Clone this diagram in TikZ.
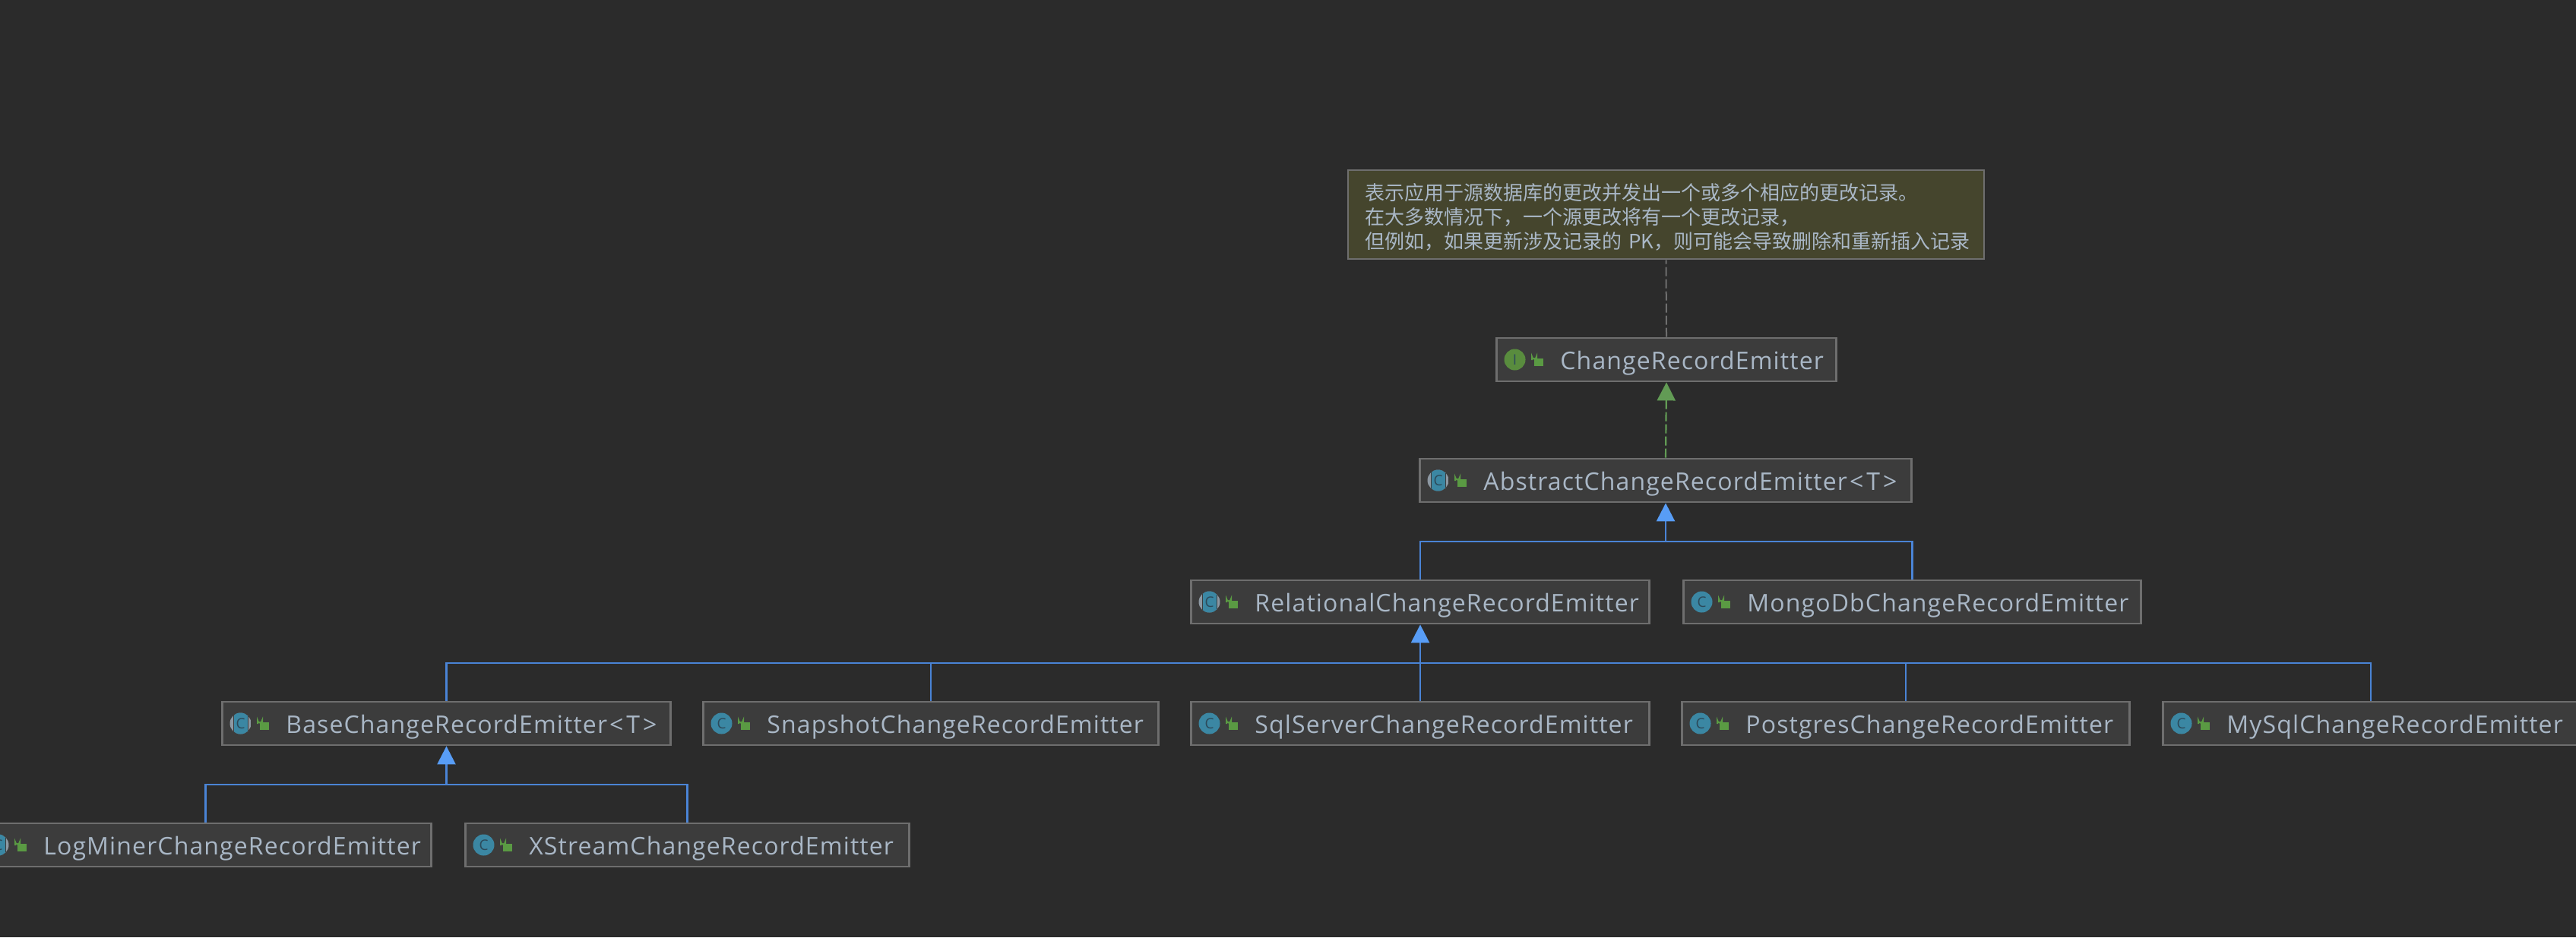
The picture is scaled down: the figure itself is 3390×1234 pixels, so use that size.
\documentclass[tikz,border=0pt]{standalone}
\usepackage{fontspec}
\usetikzlibrary{arrows.meta}
\setmainfont{Open Sans}
\newfontfamily\clsfont[LetterSpace=3.5]{Open Sans}
\newfontfamily\iconfont{Open Sans}
\newfontfamily\cjkfont{Noto Sans CJK SC}
\definecolor{bgc}{HTML}{2B2B2B}
\definecolor{boxc}{HTML}{3C3C3C}
\definecolor{edgec}{HTML}{6E6E6E}
\definecolor{textc}{HTML}{A9B7C6}
\definecolor{notec}{HTML}{45452D}
\definecolor{linec}{HTML}{4A84D6}
\definecolor{tipc}{HTML}{589DF6}
\definecolor{greenc}{HTML}{629B55}
\definecolor{tealc}{HTML}{3B87A3}
\definecolor{crec}{HTML}{8D98A2}
\definecolor{lockc}{HTML}{5A9A43}
\definecolor{inkc}{HTML}{2C4A5A}
\definecolor{ifacec}{HTML}{598C3E}
\tikzset{
  clsbox/.style={draw=edgec,fill=boxc,line width=2.8pt,inner xsep=0pt,inner ysep=0pt,
    align=left,text=textc,font=\clsfont\fontsize{32}{36}\selectfont,
    text height=30pt,text depth=5pt,minimum height=57pt},
  notebox/.style={draw=edgec,fill=notec,line width=2.8pt,inner xsep=22pt,inner ysep=0pt,
    align=left,text=textc,font=\cjkfont\fontsize{26}{32}\selectfont,
    minimum width=837pt,minimum height=117pt,text width=792pt},
  tree/.style={draw=linec,line width=2.5pt},
  inherit/.style={draw=linec,line width=2.5pt,-{Triangle[length=24pt,width=24pt,color=tipc]}},
  realize/.style={draw=greenc,line width=2.2pt,dash pattern=on 12pt off 4pt,-{Triangle[length=24pt,width=24pt,color=greenc]}},
  noteline/.style={draw=edgec,line width=2pt,dash pattern=on 12pt off 4pt},
  iconletter/.style={inner sep=0pt,text=inkc,font=\iconfont\fontsize{19}{19}\selectfont},
  lockbody/.style={fill=lockc,draw=none},
  lockarc/.style={draw=lockc,line width=2pt},
}
% \clsnode{name}{left}{right}{top}{kind: c a i}{text}
\newcommand{\clsnode}[6]{%
  \pgfmathsetmacro{\cw}{#3-#2-2.8}%
  \pgfmathsetmacro{\cx}{(#2+#3)/2}%
  \pgfmathsetmacro{\cy}{#4+29.5}%
  \node[clsbox,minimum width=\cw pt,text width=\cw pt] (#1) at (\cx,\cy) {\hspace*{84pt}#6};
  \begin{scope}[shift={(#2,#4)}]
    \ifx c#5
      \fill[tealc] (25.5,29.5) circle (14);
      \node[iconletter] (#1-letter) at (25.5,29.5) {C};
    \fi
    \ifx a#5
      \begin{scope}
        \clip (25.5,29.5) circle (14);
        \fill[crec] (11,15) rectangle (40,44);
        \fill[boxc] (15.8,15) rectangle (35.5,44);
        \fill[tealc] (17,15) rectangle (34.5,44);
      \end{scope}
      \node[iconletter] (#1-letter) at (25.5,29.5) {C};
    \fi
    \ifx i#5
      \fill[ifacec] (25.5,29.5) circle (14);
      \node[iconletter] (#1-letter) at (25.5,29.5) {I};
    \fi
    \fill[lockbody] (51,28) rectangle (63,38);
    \draw[lockarc] (48,30) -- (48,25.5) arc[start angle=180,end angle=0,radius=3] -- (54,28);
  \end{scope}
}
\newcommand{\typearg}{\kern3pt<\kern4pt T\kern4pt>}
\begin{document}
\begin{tikzpicture}[x=1pt,y=-1pt]
\useasboundingbox (0,0) rectangle (3390,1234);
\clip (0,0) rectangle (3390,1234);
\fill[bgc] (0,0) rectangle (3390,1234);

\node[notebox] (note) at (2192.5,282.5) {\rule{0pt}{29pt}表示应用于源数据库的更改并发出一个或多个相应的更改记录。\\在大多数情况下，一个源更改将有一个更改记录，\\但例如，如果更新涉及记录的 PK，则可能会导致删除和重新插入记录};

\clsnode{cre}{1968}{2418}{444}{i}{ChangeRecordEmitter}
\clsnode{abs}{1867}{2517}{603}{a}{AbstractChangeRecordEmitter\typearg}
\clsnode{rel}{1566}{2172}{763}{a}{RelationalChangeRecordEmitter}
\clsnode{mongo}{2214}{2819}{763}{c}{MongoDbChangeRecordEmitter}
\clsnode{base}{291}{884}{923}{a}{BaseChangeRecordEmitter\typearg}
\clsnode{snap}{924}{1526}{923}{c}{SnapshotChangeRecordEmitter}
\clsnode{sql}{1566}{2172}{923}{c}{SqlServerChangeRecordEmitter}
\clsnode{pg}{2212}{2804}{923}{c}{PostgresChangeRecordEmitter}
\clsnode{mysql}{2845}{3395}{923}{c}{MySqlChangeRecordEmitter}
\clsnode{log}{-28}{569}{1083}{a}{LogMinerChangeRecordEmitter}
\clsnode{xs}{611}{1198}{1083}{c}{XStreamChangeRecordEmitter}

\coordinate (j1) at (abs.south |- 0,713);
\coordinate (j2) at (rel.south |- 0,873);
\coordinate (j3) at (base.south |- 0,1033);

\draw[noteline] (cre.north) -- (note.south);
\draw[realize] (abs.north) -- (cre.south);

\draw[tree] (rel.north) |- (j1);
\draw[tree] (mongo.north) |- (j1);
\draw[inherit] (j1) -- (abs.south);

\draw[tree] (base.north) |- (j2);
\draw[tree] (snap.north) |- (j2);
\draw[tree] (pg.north) |- (j2);
\draw[tree] (mysql.north) |- (j2);
\draw[tree] (sql.north) -- (j2);
\draw[inherit] (j2) -- (rel.south);

\draw[tree] (log.north) |- (j3);
\draw[tree] (xs.north) |- (j3);
\draw[inherit] (j3) -- (base.south);
\end{tikzpicture}
\end{document}
